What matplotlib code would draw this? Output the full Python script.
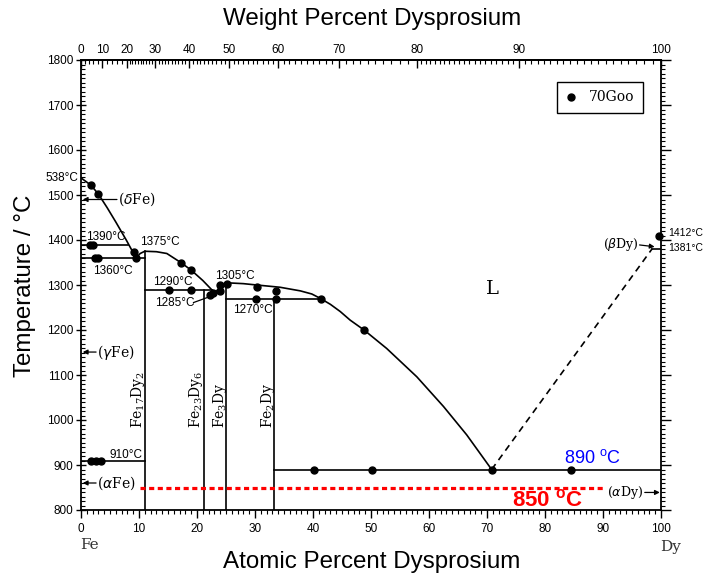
import numpy as np
import matplotlib
matplotlib.use("Agg")
import matplotlib.pyplot as plt
from matplotlib.ticker import MultipleLocator, FixedLocator

# ---------------- data ----------------
# liquidus, Fe side (at.% Dy, T in C)
liq_fe_x = [0.0, 1.7, 3.0, 4.5, 6.0, 7.8, 9.5]
liq_fe_t = [1538, 1522, 1502, 1472, 1440, 1400, 1360]
# liquidus over Fe17Dy2
liq_17_x = [9.5, 10.2, 11.0, 13.0, 14.8, 17.2, 19.0, 21.0, 22.5, 23.2]
liq_17_t = [1360, 1370, 1375, 1374, 1370, 1350, 1333, 1310, 1290, 1284]
# liquidus over Fe3Dy / Fe2Dy down to eutectic
liq_3_x = [23.2, 24.0, 25.0, 28.0, 30.3, 34.3, 37.8, 39.8, 41.3, 43.0, 44.7, 46.4,
           48.8, 52.7, 57.9, 62.5, 66.5, 70.8]
liq_3_t = [1284, 1296, 1305, 1303, 1300, 1295, 1287, 1280, 1270, 1257, 1241, 1222,
           1200, 1159, 1096, 1030, 967, 890]
# dashed liquidus, Dy side
liq_dy_x = [70.8, 98.5]
liq_dy_t = [890, 1381]

# compounds: name, composition (at.% Dy), top temperature
comp_names = [r"Fe$_{\mathregular{17}}$Dy$_{\mathregular{2}}$",
              r"Fe$_{\mathregular{23}}$Dy$_{\mathregular{6}}$",
              r"Fe$_{\mathregular{3}}$Dy",
              r"Fe$_{\mathregular{2}}$Dy"]
comp_x = [11.0, 21.2, 25.0, 33.3]
comp_top = [1375, 1290, 1305, 1270]

# invariant horizontal lines: T, x_start, x_end
iso_t = [1390, 1360, 1290, 1270, 910, 890]
iso_x0 = [0.0, 0.0, 11.0, 25.0, 0.0, 33.3]
iso_x1 = [8.1, 11.0, 22.5, 41.3, 11.0, 100.0]

# experimental points (70Goo)
pts_x = [1.7, 3.0, 1.6, 2.1, 2.4, 2.9, 9.2, 9.5, 17.2, 19.0, 15.2, 18.9,
         22.2, 22.8, 24.0, 24.0, 25.2, 30.4, 33.6, 30.1, 33.6, 41.3, 48.8,
         1.8, 2.6, 3.4, 40.2, 50.1, 70.8, 84.5, 99.7]
pts_t = [1522, 1502, 1389, 1390, 1361, 1360, 1374, 1360, 1350, 1333, 1290, 1290,
         1278, 1282, 1300, 1287, 1303, 1296, 1286, 1270, 1270, 1270, 1200,
         910, 910, 910, 889, 889, 889, 889, 1410]

# red isotherm
red_x = [10.2, 90.3]
red_t = [850, 850]

# ticks
bottom_ticks = list(range(0, 101, 10))
left_ticks = list(range(800, 1801, 100))
top_ticks = list(range(0, 101, 10))

M_FE, M_DY = 55.845, 162.5


def at2wt(a):
    a = np.asarray(a, dtype=float)
    with np.errstate(all="ignore"):
        return 100.0 * a * M_DY / (a * M_DY + (100.0 - a) * M_FE)


def wt2at(w):
    w = np.asarray(w, dtype=float)
    with np.errstate(all="ignore"):
        return 100.0 * (w / M_DY) / (w / M_DY + (100.0 - w) / M_FE)


# ---------------- figure ----------------
fig = plt.figure(figsize=(7.18, 5.75), dpi=100)
ax = fig.add_axes([81 / 718, 1 - 510 / 575, 580 / 718, 450 / 575])
ax.set_xlim(0, 100)
ax.set_ylim(800, 1800)

sans = ["Liberation Sans", "DejaVu Sans"]
serif = ["DejaVu Serif"]
lw = 1.2

ax.plot(liq_fe_x, liq_fe_t, color="black", lw=lw)
ax.plot(liq_17_x, liq_17_t, color="black", lw=lw)
ax.plot(liq_3_x, liq_3_t, color="black", lw=lw)
ax.plot(liq_dy_x, liq_dy_t, color="black", lw=lw, linestyle=(0, (4, 3)))
ax.plot([98.5, 100], [1381, 1381], color="black", lw=lw)

for cx, top in zip(comp_x, comp_top):
    ax.plot([cx, cx], [800, top], color="black", lw=lw)
for t, x0, x1 in zip(iso_t, iso_x0, iso_x1):
    ax.plot([x0, x1], [t, t], color="black", lw=lw)

ax.plot(pts_x, pts_t, "o", color="black", ms=5, ls="none", label="70Goo",
        clip_on=False, zorder=5)

ax.plot(red_x, red_t, color="red", lw=2.3, linestyle=(0, (1.6, 1.1)))

# compound labels (bottom of rotated text at the given temperature)
comp_lab_x = [9.9, 19.9, 23.9, 32.2]
comp_lab_t = [982, 982, 982, 982]
for name, lx, lt in zip(comp_names, comp_lab_x, comp_lab_t):
    ax.text(lx, lt, name, rotation=90, ha="center", va="bottom",
            family=serif, fontsize=10)

# temperature labels
tfs = 8.5
ax.text(-0.4, 1538, "538°C", ha="right", va="center", family=sans, fontsize=tfs)
ax.text(0.8, 1407, "1390°C", ha="left", va="center", family=sans, fontsize=tfs)
ax.text(2.0, 1331, "1360°C", ha="left", va="center", family=sans, fontsize=tfs)
ax.text(10.2, 1396, "1375°C", ha="left", va="center", family=sans, fontsize=tfs)
ax.text(12.4, 1307, "1290°C", ha="left", va="center", family=sans, fontsize=tfs)
ax.text(12.8, 1259, "1285°C", ha="left", va="center", family=sans, fontsize=tfs)
ax.plot([19.4, 22.6], [1261, 1276], color="black", lw=0.9)
ax.text(23.1, 1320, "1305°C", ha="left", va="center", family=sans, fontsize=tfs)
ax.text(26.2, 1245, "1270°C", ha="left", va="center", family=sans, fontsize=tfs)
ax.text(5.0, 923, "910°C", ha="left", va="center", family=sans, fontsize=tfs)
ax.text(101.2, 1415, "1412°C", ha="left", va="center", family=sans, fontsize=7.5,
        clip_on=False)
ax.text(101.2, 1383, "1381°C", ha="left", va="center", family=sans, fontsize=7.5,
        clip_on=False)

# phase labels with arrows
pfs = 10
arrow = dict(arrowstyle="-|>", color="black", lw=0.9, mutation_scale=7,
             shrinkA=0, shrinkB=0)
ax.annotate("", xy=(0.3, 1490), xytext=(6.2, 1490), arrowprops=arrow)
ax.text(6.4, 1490, r"($\delta$Fe)", ha="left", va="center", family=serif, fontsize=pfs)
ax.annotate("", xy=(0.3, 1151), xytext=(2.6, 1151), arrowprops=arrow)
ax.text(2.8, 1151, r"($\gamma$Fe)", ha="left", va="center", family=serif, fontsize=pfs)
ax.annotate("", xy=(0.3, 860), xytext=(2.6, 860), arrowprops=arrow)
ax.text(2.8, 860, r"($\alpha$Fe)", ha="left", va="center", family=serif, fontsize=pfs)
ax.annotate("", xy=(99.8, 839), xytext=(97.2, 839), arrowprops=arrow)
ax.text(97.0, 839, r"($\alpha$Dy)", ha="right", va="center", family=serif, fontsize=9)
ax.annotate("", xy=(98.9, 1385), xytext=(96.3, 1389), arrowprops=arrow)
ax.text(96.2, 1389, r"($\beta$Dy)", ha="right", va="center", family=serif, fontsize=9)
ax.text(71.0, 1292, "L", ha="center", va="center", family=serif, fontsize=14)

# highlighted temperatures
ax.text(83.2, 915, r"890 $^{\mathregular{o}}$C", ha="left", va="center",
        family=sans, fontsize=13, color="blue")
ax.text(74.3, 822, r"850 $^{\mathregular{o}}$C", ha="left", va="center",
        family=sans, fontsize=16, color="red", fontweight="bold")

# legend
leg = ax.legend(loc="upper right", bbox_to_anchor=(0.969, 0.951), borderaxespad=0,
                fancybox=False, edgecolor="black", framealpha=1,
                prop={"family": serif, "size": 10}, handlelength=0.8,
                handletextpad=0.9, borderpad=0.6)
leg.get_frame().set_linewidth(1.0)

# axes styling
for s in ax.spines.values():
    s.set_linewidth(1.3)
ax.set_xticks(bottom_ticks)
ax.set_yticks(left_ticks)
ax.xaxis.set_minor_locator(MultipleLocator(1))
ax.yaxis.set_minor_locator(MultipleLocator(10))
ax.tick_params(axis="x", which="major", direction="out", length=6, width=1.0,
               labelsize=8.5, pad=3)
ax.tick_params(axis="x", which="minor", direction="out", length=3, width=0.8)
ax.tick_params(axis="y", which="major", direction="inout", length=7, width=1.0,
               labelsize=8.5, right=True, pad=2)
ax.tick_params(axis="y", which="minor", direction="in", length=3, width=0.8,
               right=True)
for lab in ax.get_xticklabels() + ax.get_yticklabels():
    lab.set_family(sans)
# right side ticks outward
for t in ax.yaxis.get_major_ticks():
    t.tick2line.set_marker(matplotlib.lines.TICKRIGHT)
for t in ax.yaxis.get_minor_ticks():
    t.tick2line.set_marker(matplotlib.lines.TICKRIGHT)

secax = ax.secondary_xaxis("top", functions=(at2wt, wt2at))
secax.set_xticks(top_ticks)
top_minor = list(np.arange(0, 20, 2)) + list(np.arange(20, 80, 1)) + list(np.arange(80, 100, 0.5))
secax.xaxis.set_minor_locator(FixedLocator(top_minor))
secax.tick_params(axis="x", which="major", direction="in", length=6, width=1.0,
                  labelsize=8.5, pad=3)
secax.tick_params(axis="x", which="minor", direction="in", length=3, width=0.8)
secax.spines["top"].set_linewidth(1.3)
for lab in secax.get_xticklabels():
    lab.set_family(sans)

fig.text(372 / 718, 1 - 19 / 575, "Weight Percent Dysprosium", ha="center",
         va="center", family=sans, fontsize=17.4)
fig.text(372 / 718, 1 - 562 / 575, "Atomic Percent Dysprosium", ha="center",
         va="center", family=sans, fontsize=17.4)
fig.text(25 / 718, 1 - 286 / 575, "Temperature / °C", ha="center", va="center",
         rotation=90, family=sans, fontsize=17.4)
fig.text(89 / 718, 1 - 545 / 575, "Fe", ha="center", va="center", family=serif,
         fontsize=11, color="#333333")
fig.text(671 / 718, 1 - 547 / 575, "Dy", ha="center", va="center", family=serif,
         fontsize=11, color="#333333")

fig.savefig("out.png", dpi=100)
